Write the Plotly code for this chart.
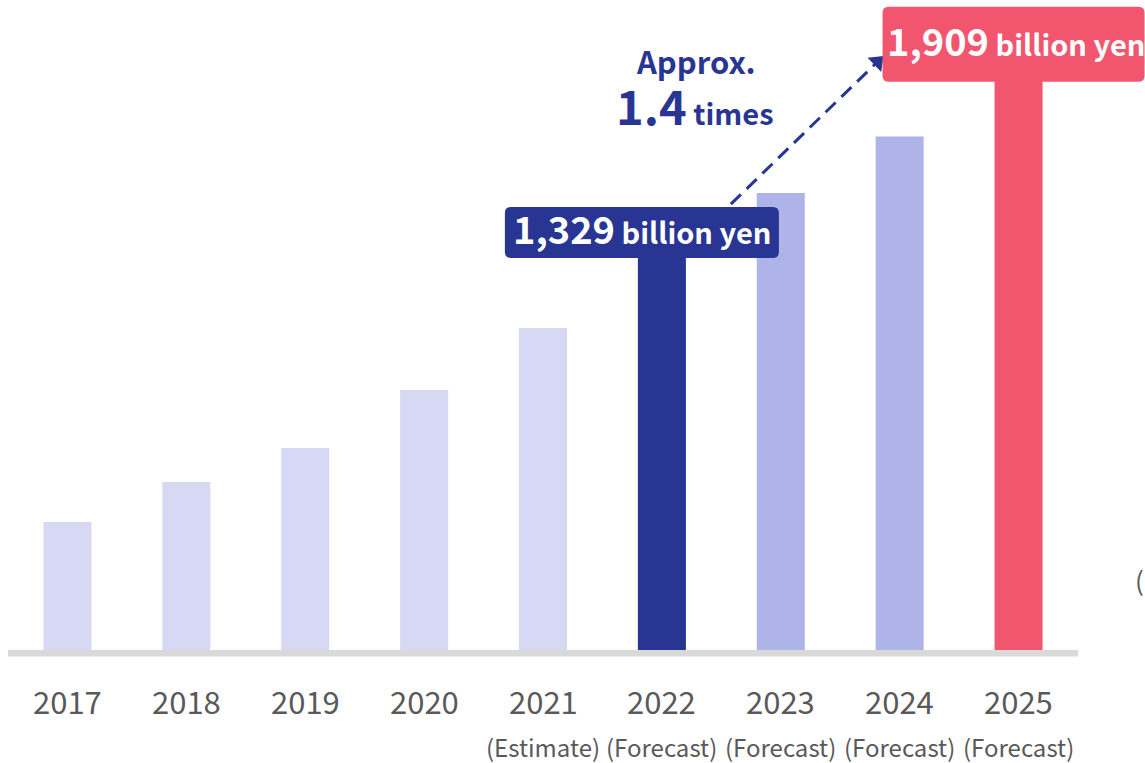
import plotly.graph_objects as go

years = ["2017", "2018", "2019", "2020", "2021", "2022", "2023", "2024", "2025"]
notes = ["", "", "", "", "(Estimate)", "(Forecast)", "(Forecast)", "(Forecast)", "(Forecast)"]
values = [405, 532, 639, 823, 1019, 1329, 1446, 1625, 1909]
colors = ["#d7d8f3", "#d7d8f3", "#d7d8f3", "#d7d8f3", "#d7d8f3",
          "#283593", "#aeb4e8", "#aeb4e8", "#f2566f"]
callout_values = {"2022": "1,329", "2025": "1,909"}
growth_label = "1.4"

FONT = "Noto Sans CJK JP"
NAVY = "#283593"
PINK = "#f2566f"
GRAY = "#595959"

W, H = 1145, 763
L, R, T, B = 8, 67, 0, 106
PH = H - T - B
YMIN, YMAX = -22.2, 2057
N = len(years)


def py(win_px):
    """paper y for a vertical window pixel position"""
    return 1 - (win_px - T) / PH


def px(win_px):
    return (win_px - L) / (W - L - R)


def vy(v):
    return (v - YMIN) / (YMAX - YMIN)


def cx(i):
    return (i + 0.5) / N


xs = list(range(N))
fig = go.Figure()
fig.add_trace(go.Bar(x=xs, y=values, marker=dict(color=colors, line=dict(width=0)),
                     width=0.404, hoverinfo="skip", showlegend=False))

# baseline
fig.add_shape(type="rect", xref="paper", yref="y", x0=0, x1=1, y0=0, y1=-20.6,
              fillcolor="#d9d9d9", line=dict(width=0), layer="below")

annotations = []
for i, (yr, nt) in enumerate(zip(years, notes)):
    annotations.append(dict(x=i, y=py(700.5), xref="x", yref="paper", text=yr,
                            showarrow=False, yanchor="middle",
                            font=dict(family=FONT, size=31, color=GRAY)))
    if nt:
        annotations.append(dict(x=i, y=py(746), xref="x", yref="paper", text=nt,
                                showarrow=False, yanchor="middle",
                                font=dict(family=FONT, size=24, color=GRAY)))


def rounded_box(w, h, r, ox, oy):
    x0, x1 = ox - w / 2, ox + w / 2
    y0, y1 = oy - h / 2, oy + h / 2
    return (f"M {x0 + r} {y0} L {x1 - r} {y0} Q {x1} {y0} {x1} {y0 + r} "
            f"L {x1} {y1 - r} Q {x1} {y1} {x1 - r} {y1} L {x0 + r} {y1} "
            f"Q {x0} {y1} {x0} {y1 - r} L {x0} {y0 + r} Q {x0} {y0} {x0 + r} {y0} Z")


# (year, color, box w, box h, box dx, box dy, text dx)
callouts = [("2022", NAVY, 274, 51, -20, -2.5, -20), ("2025", PINK, 262, 75, -5, 2.5, -3)]
for yr, col, w, h, dx, dy, tdx in callouts:
    i = years.index(yr)
    v = values[i]
    fig.add_shape(type="path", xref="paper", yref="paper", xsizemode="pixel", ysizemode="pixel",
                  xanchor=cx(i), yanchor=vy(v), path=rounded_box(w, h, 6, dx, dy),
                  fillcolor=col, line=dict(width=0))
    annotations.append(dict(x=i, y=v, xref="x", yref="y", xshift=tdx, yshift=dy + 5,
                            showarrow=False, yanchor="middle",
                            text=f"<b><span style='font-size:38px'>{callout_values[yr]}</span> billion yen</b>",
                            font=dict(family=FONT, size=29, color="white")))

# growth arrow
ax0, ay0 = 5.58, 1411
ax1, ay1 = 6.813, 1861
fig.add_trace(go.Scatter(x=[ax0, ax1], y=[ay0, ay1], mode="lines",
                         line=dict(color=NAVY, width=3, dash="14px,8px"),
                         hoverinfo="skip", showlegend=False, cliponaxis=False))
fig.add_trace(go.Scatter(x=[ax1], y=[ay1], mode="markers",
                         marker=dict(symbol="triangle-up", size=17, color=NAVY, angle=46),
                         hoverinfo="skip", showlegend=False, cliponaxis=False))

annotations.append(dict(x=5.28, y=1866, xref="x", yref="y", text="<b>Approx.</b>",
                        showarrow=False, yanchor="middle",
                        font=dict(family=FONT, size=31, color=NAVY)))
annotations.append(dict(x=5.28, y=1725, xref="x", yref="y",
                        text=f"<b><span style='font-size:47px'>{growth_label}</span> times</b>",
                        showarrow=False, yanchor="middle",
                        font=dict(family=FONT, size=29, color=NAVY)))
annotations.append(dict(x=px(1133), y=py(579), xref="paper", yref="paper", text="(",
                        showarrow=False, xanchor="left", yanchor="middle",
                        font=dict(family=FONT, size=26, color=GRAY)))

fig.update_layout(
    width=W, height=H,
    margin=dict(l=L, r=R, t=T, b=B, pad=0),
    paper_bgcolor="white", plot_bgcolor="white",
    xaxis=dict(range=[-0.5, N - 0.5], showgrid=False, zeroline=False, showticklabels=False,
               fixedrange=True),
    yaxis=dict(range=[YMIN, YMAX], showgrid=False, zeroline=False, showticklabels=False,
               fixedrange=True),
    annotations=annotations,
    font=dict(family=FONT),
)

fig.write_html("out.html", config={"displayModeBar": False},
               post_script="document.body.style.margin='0';document.body.style.overflow='hidden';")
